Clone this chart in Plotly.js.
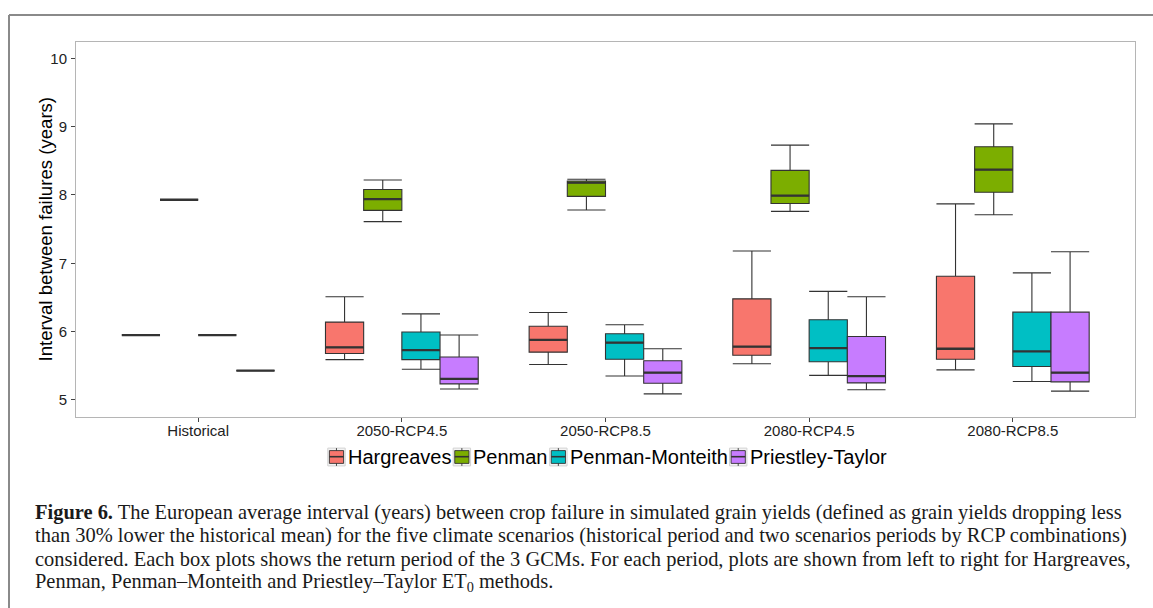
<!DOCTYPE html>
<html><head><meta charset="utf-8">
<script src="https://cdn.plot.ly/plotly-3.0.1.min.js"></script>
<style>html,body{margin:0;padding:0;background:#fff;overflow:hidden}#chart{width:1153px;height:608px}</style>
</head><body><div id="chart"></div>
<script>
// ---------- data ----------
const scenarios = ['Historical', '2050-RCP4.5', '2050-RCP8.5', '2080-RCP4.5', '2080-RCP8.5'];
const methods = ['Hargreaves', 'Penman', 'Penman-Monteith', 'Priestley-Taylor'];
const colors = ['#F8766D', '#7CAE00', '#00BFC4', '#C77CFF'];
// return period (years) per scenario: one value for Historical, 3 GCMs otherwise
const hargreaves      = [[5.95], [5.59, 5.77, 6.51], [5.52, 5.88, 6.28], [5.53, 5.78, 7.18], [5.44, 5.75, 7.87]];
const penman          = [[7.93], [7.61, 7.94, 8.22], [7.78, 8.18, 8.23], [7.76, 7.99, 8.73], [7.71, 8.37, 9.04]];
const penmanMonteith  = [[5.95], [5.45, 5.73, 6.26], [5.35, 5.84, 6.10], [5.36, 5.76, 6.59], [5.27, 5.71, 6.86]];
const priestleyTaylor = [[5.43], [5.16, 5.31, 5.95], [5.09, 5.40, 5.75], [5.15, 5.35, 6.51], [5.13, 5.40, 7.17]];
const yTicks = [5, 6, 7, 8, 9, 10];
const yTitle = 'Interval between failures (years)';
const captionLines = [
  '<b>Figure 6.</b> The European average interval (years) between crop failure in simulated grain yields (defined as grain yields dropping less',
  'than 30% lower the historical mean) for the five climate scenarios (historical period and two scenarios periods by RCP combinations)',
  'considered. Each box plots shows the return period of the 3 GCMs. For each period, plots are shown from left to right for Hargreaves,',
  'Penman, Penman\u2013Monteith and Priestley\u2013Taylor ET<sub>0</sub> methods.'
];

// ---------- geometry helpers ----------
const W = 1153, H = 608, L = 76, R = 1135, T = 42, B = 417;
const px2x = p => (p - L) / (R - L);
const py2y = p => (B - p) / (B - T);
const SANS = "'Liberation Sans', Arial, sans-serif";
const SERIF = "'Liberation Serif', 'Times New Roman', serif";
const ctx = document.createElement('canvas').getContext('2d');
function textWidth(str, font) { ctx.font = font; return ctx.measureText(str).width; }

const series = [hargreaves, penman, penmanMonteith, priestleyTaylor];
const median = arr => { const s = arr.slice().sort((a, b) => a - b); const n = s.length; return n % 2 ? s[(n - 1) / 2] : (s[n / 2 - 1] + s[n / 2]) / 2; };

const traces = [];
methods.forEach((m, i) => {
  const xs = [], ys = [];
  scenarios.forEach((s, j) => series[i][j].forEach(v => { xs.push(s); ys.push(v); }));
  traces.push({
    type: 'box', name: m, x: xs, y: ys, boxpoints: false, quartilemethod: 'inclusive',
    whiskerwidth: 1, fillcolor: colors[i], marker: { color: colors[i] },
    line: { color: '#333333', width: 1.1 }, offsetgroup: m, alignmentgroup: 'g',
    showlegend: false, hoverinfo: 'y'
  });
  // thicker median line (as in ggplot)
  traces.push({
    type: 'box', name: m + ' median', x: scenarios, y: series[i].map(median), boxpoints: false,
    whiskerwidth: 0, fillcolor: 'rgba(0,0,0,0)', line: { color: '#333333', width: 2.3 },
    offsetgroup: m, alignmentgroup: 'g', showlegend: false, hoverinfo: 'skip'
  });
});

const shapes = [];
const annotations = [];
// outer figure frame (top & left)
shapes.push({ type: 'line', xref: 'paper', yref: 'paper', x0: px2x(9), x1: px2x(W + 5), y0: py2y(15), y1: py2y(15), line: { color: '#8a8a8a', width: 2 } });
shapes.push({ type: 'line', xref: 'paper', yref: 'paper', x0: px2x(9), x1: px2x(9), y0: py2y(15), y1: py2y(H + 5), line: { color: '#8a8a8a', width: 2 } });

// y axis title (placed like ggplot)
annotations.push({ xref: 'paper', yref: 'paper', x: px2x(45), y: py2y((T + B) / 2), xanchor: 'center', yanchor: 'middle', textangle: -90, text: yTitle, showarrow: false, borderpad: 0, borderwidth: 0, font: { family: SANS, size: 18.6, color: '#000000' } });

// ---------- legend (ggplot style, drawn tightly) ----------
const legFontSize = 20;
const legFont = legFontSize + 'px ' + SANS;
const iconW = 17.4, iconGap = 2.6, itemGap = 2;
const widths = methods.map(m => textWidth(m, legFont));
const total = widths.reduce((a, b) => a + b, 0) + methods.length * (iconW + iconGap) + (methods.length - 1) * itemGap;
let lx = 607 - total / 2;
const ly = 457;
methods.forEach((m, i) => {
  const x0 = lx, x1 = lx + iconW, cx = (x0 + x1) / 2;
  shapes.push({ type: 'rect', xref: 'paper', yref: 'paper', x0: px2x(x0), x1: px2x(x1), y0: py2y(ly - 8.9), y1: py2y(ly + 8.9), fillcolor: '#f4f4f4', line: { color: '#d2d2d2', width: 1 } });
  shapes.push({ type: 'line', xref: 'paper', yref: 'paper', x0: px2x(cx), x1: px2x(cx), y0: py2y(ly - 8.9), y1: py2y(ly + 8.9), line: { color: '#333333', width: 0.9 } });
  shapes.push({ type: 'rect', xref: 'paper', yref: 'paper', x0: px2x(x0 + 1.6), x1: px2x(x1 - 1.6), y0: py2y(ly - 6.4), y1: py2y(ly + 6.4), fillcolor: colors[i], line: { color: '#333333', width: 0.9 } });
  shapes.push({ type: 'line', xref: 'paper', yref: 'paper', x0: px2x(x0 + 1.6), x1: px2x(x1 - 1.6), y0: py2y(ly - 0.3), y1: py2y(ly - 0.3), line: { color: '#333333', width: 1.6 } });
  const tx = x1 + iconGap;
  annotations.push({ xref: 'paper', yref: 'paper', x: px2x(tx), y: py2y(ly), xanchor: 'left', yanchor: 'middle', text: m, showarrow: false, borderpad: 0, borderwidth: 0, font: { family: SANS, size: legFontSize, color: '#000000' } });
  lx = tx + widths[i] + itemGap;
});

// ---------- caption ----------
const capBase = 18;
const capSize = Math.max(16, Math.min(21, capBase * 1093 / textWidth(captionLines[1], capBase + 'px ' + SERIF)));
const capY = [512, 535.5, 559, 582];
captionLines.forEach((t, k) => {
  annotations.push({ xref: 'paper', yref: 'paper', x: px2x(35), y: py2y(capY[k]), xanchor: 'left', yanchor: 'middle', text: t, showarrow: false, borderpad: 0, borderwidth: 0, font: { family: SERIF, size: capSize, color: '#1a1a1a' } });
});

const layout = {
  width: W, height: H,
  margin: { l: L, r: W - R, t: T, b: H - B, pad: 0 },
  paper_bgcolor: '#ffffff', plot_bgcolor: '#ffffff',
  font: { family: SANS, color: '#222222' },
  boxmode: 'group', boxgap: 0.25, boxgroupgap: 0,
  showlegend: false,
  xaxis: {
    type: 'category', categoryorder: 'array', categoryarray: scenarios,
    range: [-0.6, scenarios.length - 0.4],
    showline: true, mirror: true, linecolor: '#b5b5b5', linewidth: 1,
    ticks: 'outside', ticklen: 4, tickcolor: '#444444', tickwidth: 1,
    showgrid: false, zeroline: false, ticklabelstandoff: -4,
    tickfont: { family: SANS, size: 15, color: '#222222' }
  },
  yaxis: {
    range: [4.751, 10.2385], tickvals: yTicks, ticktext: yTicks.map(String),
    showline: true, mirror: true, linecolor: '#b5b5b5', linewidth: 1,
    ticks: 'outside', ticklen: 4, tickcolor: '#444444', tickwidth: 1,
    showgrid: false, zeroline: false, ticklabelstandoff: 1,
    tickfont: { family: SANS, size: 15, color: '#222222' }
  },
  shapes: shapes,
  annotations: annotations
};

Plotly.newPlot('chart', traces, layout, { staticPlot: true, displayModeBar: false });
</script>
</body></html>
